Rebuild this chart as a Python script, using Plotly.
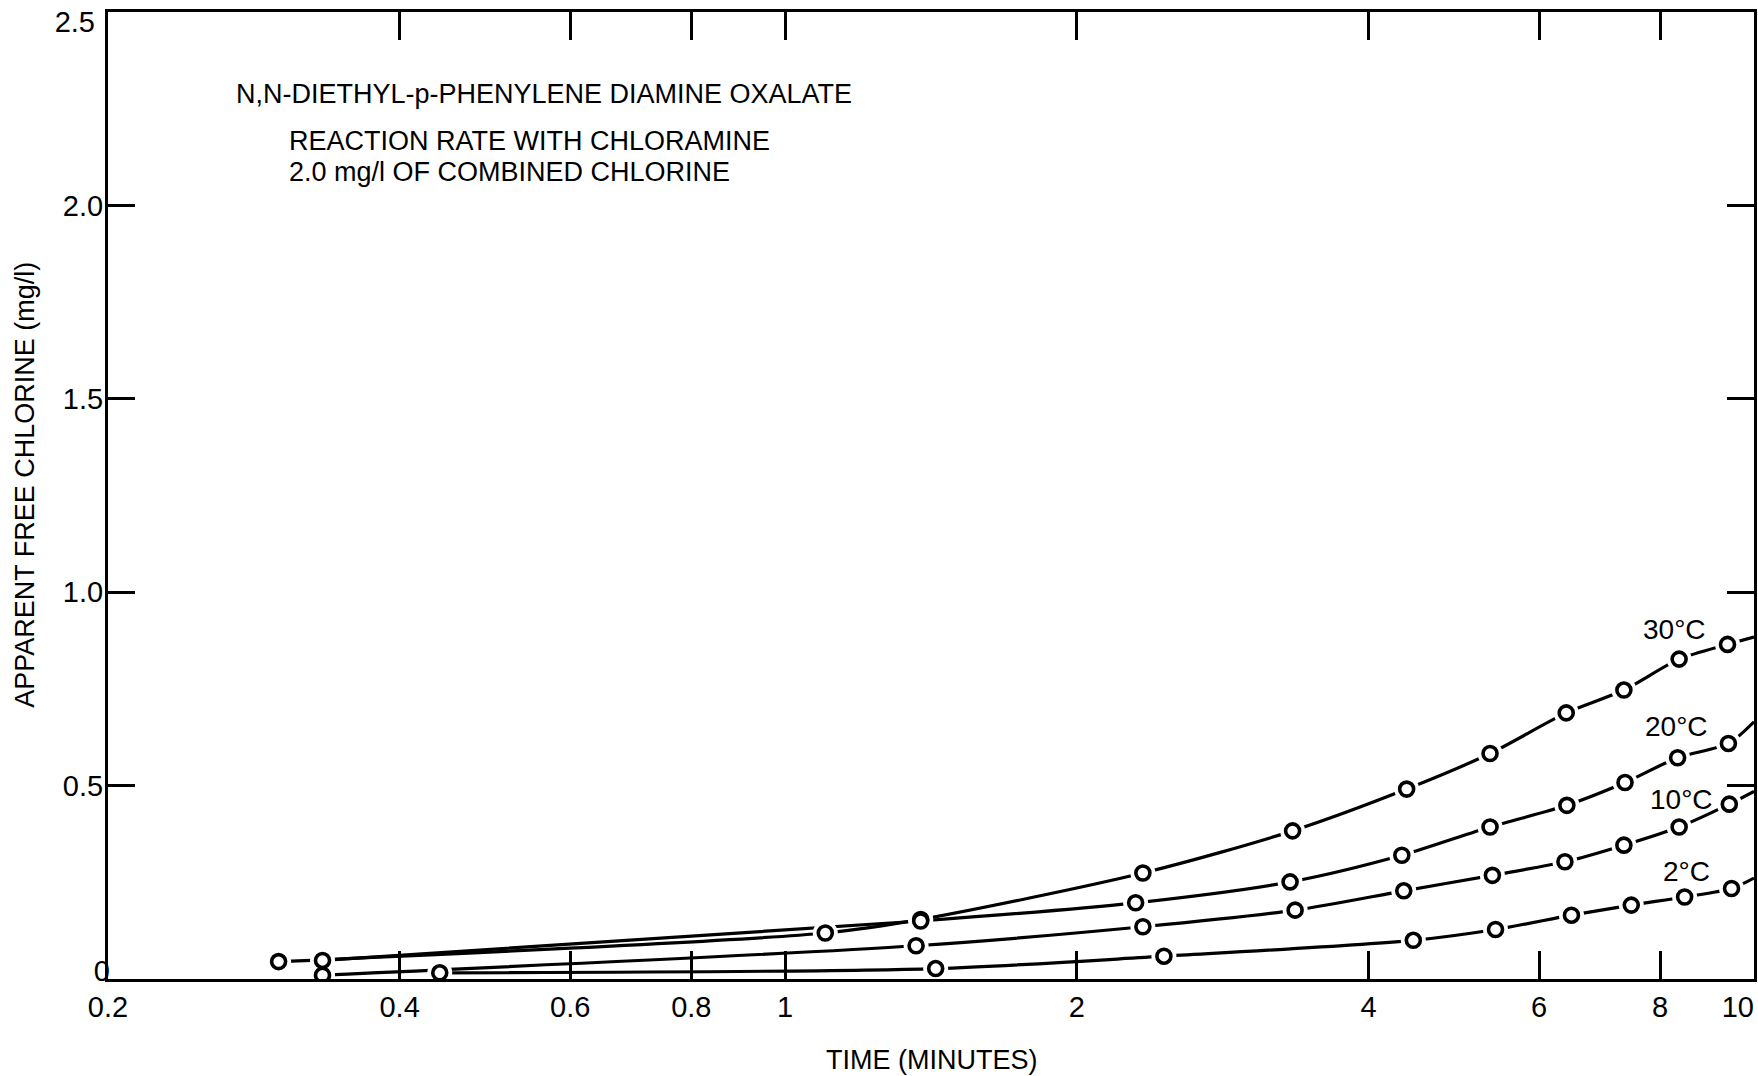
import plotly.graph_objects as go

# ---------------- data ----------------
time_30C = [0.30, 1.10, 1.38, 2.34, 3.34, 4.38, 5.34, 6.40, 7.34, 8.37, 9.39]
chlorine_30C = [0.045, 0.119, 0.154, 0.274, 0.383, 0.491, 0.583, 0.688, 0.747, 0.827, 0.865]

time_20C = [0.333, 1.38, 2.30, 3.32, 4.33, 5.34, 6.41, 7.36, 8.34, 9.41]
chlorine_20C = [0.048, 0.150, 0.197, 0.251, 0.320, 0.393, 0.449, 0.508, 0.572, 0.609]

time_10C = [0.333, 1.365, 2.34, 3.36, 4.35, 5.37, 6.38, 7.34, 8.37, 9.43]
chlorine_10C = [0.010, 0.086, 0.135, 0.178, 0.228, 0.268, 0.303, 0.346, 0.393, 0.452]

time_2C = [0.44, 1.43, 2.46, 4.45, 5.41, 6.48, 7.47, 8.48, 9.48]
chlorine_2C = [0.016, 0.027, 0.059, 0.100, 0.128, 0.165, 0.191, 0.212, 0.234]

# value of each smooth curve where it meets the 10-minute edge
curve_end_time = 10.0
curve_end_30C = 0.884
curve_end_20C = 0.665
curve_end_10C = 0.485
curve_end_2C = 0.261

series_labels = ["30°C", "20°C", "10°C", "2°C"]

x_tick_vals = [0.2, 0.4, 0.6, 0.8, 1, 2, 4, 6, 8, 10]
x_tick_text = ["0.2", "0.4", "0.6", "0.8", "1", "2", "4", "6", "8", ""]
x_end_tick_vals = [10]
x_end_tick_text = ["10"]
y_tick_vals = [0, 0.5, 1.0, 1.5, 2.0, 2.5]
y_tick_text = ["", "0.5", "1.0", "1.5", "2.0", ""]
y_top_tick_vals = [2.5]
y_top_tick_text = ["2.5"]
y_bottom_tick_vals = [0]
y_bottom_tick_text = ["0"]

title_lines = ["N,N-DIETHYL-p-PHENYLENE DIAMINE OXALATE",
               "REACTION RATE WITH CHLORAMINE",
               "2.0 mg/l OF COMBINED CHLORINE"]
x_title = "TIME (MINUTES)"
y_title = "APPARENT FREE CHLORINE (mg/l)"

# ---------------- figure ----------------
FONT = "Liberation Sans, Arial, sans-serif"
TICKFONT = dict(family=FONT, size=29, color="black")
XRANGE = [-0.69897, 1.0]
YRANGE = [0, 2.5]

series = [
    (time_30C, chlorine_30C, curve_end_30C),
    (time_20C, chlorine_20C, curve_end_20C),
    (time_10C, chlorine_10C, curve_end_10C),
    (time_2C, chlorine_2C, curve_end_2C),
]

fig = go.Figure()

# smooth curves
for t, v, end in series:
    fig.add_trace(go.Scatter(
        x=t + [curve_end_time], y=v + [end], mode="lines",
        line=dict(color="black", width=3.2, shape="spline", smoothing=0.8),
        hoverinfo="skip", showlegend=False))

# white halos producing the small gaps around each point
for t, v, end in series:
    fig.add_trace(go.Scatter(
        x=t, y=v, mode="markers",
        marker=dict(symbol="circle", size=25, color="white", line=dict(width=0)),
        hoverinfo="skip", showlegend=False))

# open circle data points
for (t, v, end), name in zip(series, series_labels):
    fig.add_trace(go.Scatter(
        x=t, y=v, mode="markers", name=name,
        marker=dict(symbol="circle", size=14, color="white",
                    line=dict(color="black", width=3.6)),
        showlegend=False))

# empty carriers for the overlay axes that hold the edge tick labels
for xa, ya in [("x2", "y"), ("x", "y2"), ("x", "y3")]:
    fig.add_trace(go.Scatter(x=[None], y=[None], xaxis=xa, yaxis=ya,
                             mode="markers", hoverinfo="skip", showlegend=False))

axis_common = dict(showgrid=False, zeroline=False, showline=True,
                   linecolor="black", linewidth=3, mirror="ticks",
                   ticks="inside", tickcolor="black", tickwidth=3,
                   tickfont=TICKFONT, automargin=False)
overlay_common = dict(showgrid=False, zeroline=False, showline=False, ticks="",
                      tickmode="array", tickfont=TICKFONT, ticklabeloverflow="allow",
                      automargin=False)

fig.update_layout(
    width=1758, height=1076,
    margin=dict(l=108, r=4, t=12, b=97, autoexpand=False),
    paper_bgcolor="white", plot_bgcolor="white",
    xaxis=dict(type="log", range=XRANGE, tickmode="array",
               tickvals=x_tick_vals, ticktext=x_tick_text, ticklen=28,
               ticklabelstandoff=0, **axis_common),
    xaxis2=dict(type="log", range=XRANGE, overlaying="x", anchor="y",
                side="bottom", tickvals=x_end_tick_vals, ticktext=x_end_tick_text,
                ticklabelposition="outside left", ticklabelstandoff=8,
                **overlay_common),
    yaxis=dict(range=YRANGE, tickmode="array", tickvals=y_tick_vals,
               ticktext=y_tick_text, ticklen=27, ticklabelstandoff=-4,
               **axis_common),
    yaxis2=dict(range=YRANGE, overlaying="y", anchor="x", side="left",
                tickvals=y_top_tick_vals, ticktext=y_top_tick_text,
                ticklabelstandoff=12, ticklabelshift=10,
                **overlay_common),
    yaxis3=dict(range=YRANGE, overlaying="y", anchor="x", side="left",
                tickvals=y_bottom_tick_vals, ticktext=y_bottom_tick_text,
                ticklabelstandoff=-3, ticklabelshift=-8,
                **overlay_common),
    showlegend=False,
)

ann = []
text_font = dict(family=FONT, size=27, color="black")
ann.append(dict(text=title_lines[0], x=0.0763, y=0.915, xref="paper", yref="paper",
                xanchor="left", yanchor="middle", showarrow=False, font=text_font))
ann.append(dict(text=title_lines[1], x=0.1089, y=0.8666, xref="paper", yref="paper",
                xanchor="left", yanchor="middle", showarrow=False, font=text_font))
ann.append(dict(text=title_lines[2], x=0.1089, y=0.8350, xref="paper", yref="paper",
                xanchor="left", yanchor="middle", showarrow=False, font=text_font))
ann.append(dict(text=x_title, x=0.5, y=-0.0835, xref="paper", yref="paper",
                xanchor="center", yanchor="middle", showarrow=False, font=text_font))
ann.append(dict(text=y_title, x=-0.0505, y=0.5109, xref="paper", yref="paper",
                xanchor="center", yanchor="middle", showarrow=False, textangle=-90,
                font=text_font))
label_pos = [(0.952, 0.361), (0.953, 0.2606), (0.956, 0.186), (0.959, 0.1107)]
for name, (px, py) in zip(series_labels, label_pos):
    ann.append(dict(text=name, x=px, y=py, xref="paper", yref="paper",
                    xanchor="center", yanchor="middle", showarrow=False,
                    font=dict(family=FONT, size=28, color="black")))
fig.update_layout(annotations=ann)

fig.write_html("out.html", include_plotlyjs=True, full_html=True,
               config={"displayModeBar": False},
               post_script="document.body.style.margin='0';document.body.style.overflow='hidden';")
